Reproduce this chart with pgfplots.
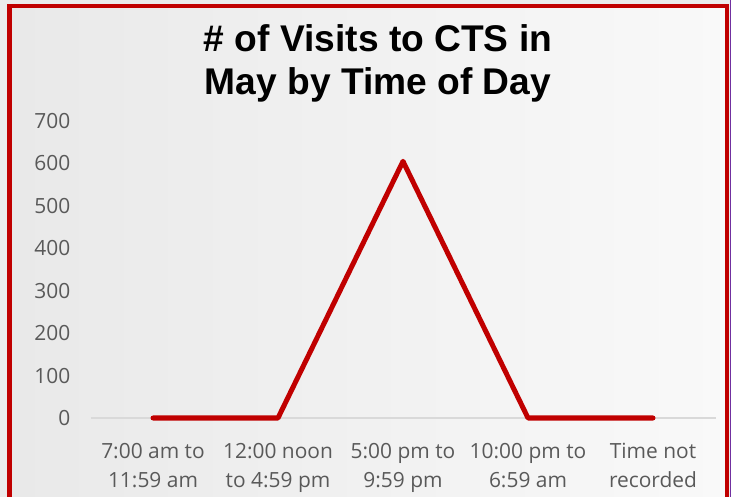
\documentclass[border=0pt]{standalone}
\usepackage{pgfplots}
\pgfplotsset{compat=1.18}
\usepackage{fontspec}
\setmainfont{Open Sans}
\newfontfamily\titlefont{Liberation Sans}
\definecolor{cred}{HTML}{C00000}
\definecolor{ctick}{HTML}{595959}
\definecolor{cgrid}{HTML}{D9D9D9}
\definecolor{bgout}{HTML}{EBEBEB}
\definecolor{bgl}{HTML}{E9E9E9}
\definecolor{bgr}{HTML}{F9F9F9}
\definecolor{cpurple}{HTML}{7030A0}
\begin{document}
\begin{tikzpicture}
\useasboundingbox (0bp,0bp) rectangle (731bp,497bp);
\fill[bgout] (0bp,0bp) rectangle (731bp,497bp);
\shade[left color=bgl, right color=bgr] (12bp,0bp) rectangle (725bp,488.5bp);
\draw[cred, line width=4.6bp] (9.7bp,-20bp) -- (9.7bp,490.8bp) -- (727bp,490.8bp) -- (727bp,-20bp);
\draw[cpurple, line width=1.2bp] (730.4bp,0bp) -- (730.4bp,497bp);
\node[font=\titlefont\bfseries\fontsize{37.3}{43}\selectfont, anchor=base] at (378bp,445bp) {\# of Visits to CTS in};
\node[font=\titlefont\bfseries\fontsize{37.3}{43}\selectfont, anchor=base] at (378bp,402bp) {May by Time of Day};
\begin{axis}[
  at={(90.5bp,79bp)}, anchor=south west,
  scale only axis, width=625bp, height=297bp,
  xmin=-0.5, xmax=4.5, ymin=0, ymax=700,
  ytick={0,100,...,700},
  xtick={0,1,2,3,4},
  xticklabels={{7:00 am to\\11:59 am},{12:00 noon\\to 4:59 pm},{5:00 pm to\\9:59 pm},{10:00 pm to\\6:59 am},{Time not\\recorded}},
  axis line style={draw=none},
  major tick length=0pt,
  /pgf/number format/assume math mode=true,
  tick label style={font=\fontsize{21}{29}\selectfont, text=ctick},
  yticklabel style={inner sep=0pt, xshift=-20bp},
  xticklabel style={align=center, inner sep=0pt, yshift=-25bp},
  clip=false,
]
\draw[cgrid, line width=1.5bp] (axis cs:-0.5,0) -- (axis cs:4.5,0);
\addplot[cred, line width=5bp, line cap=round, line join=round] coordinates {(0,0) (1,0) (2,605) (3,0) (4,0)};
\end{axis}
\end{tikzpicture}
\end{document}
